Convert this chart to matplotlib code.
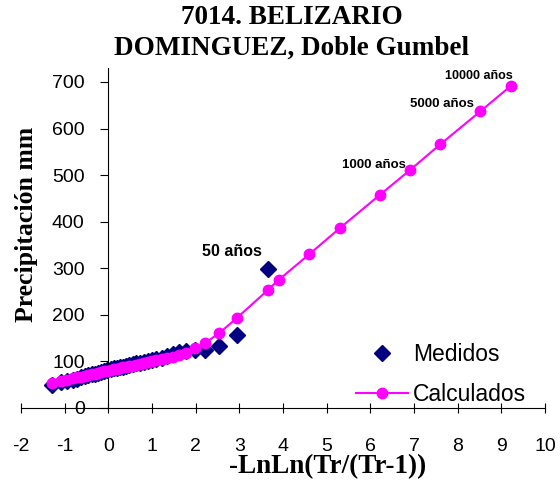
import matplotlib
matplotlib.use("Agg")
import matplotlib.pyplot as plt

# Measured (Weibull plotting positions) and values
x_med = [3.65, 2.94, 2.53, 2.22, 1.99, 1.79, 1.62, 1.47, 1.34, 1.22, 1.10, 1.00,
         0.90, 0.81, 0.72, 0.64, 0.56, 0.48, 0.40, 0.33, 0.26, 0.19, 0.12, 0.05,
         -0.02, -0.09, -0.16, -0.24, -0.31, -0.38, -0.46, -0.54, -0.63, -0.72,
         -0.82, -0.94, -1.09, -1.30]
y_med = [298, 157, 133, 125, 124, 122, 120, 116, 111, 108, 106, 104,
         101, 99, 97, 96, 94, 92, 91, 89, 87, 86, 85, 84,
         82, 80, 78, 76, 74, 72, 70, 68, 66, 63,
         61, 58, 55, 50]

# Calculated (double Gumbel)
x_calc = [-1.30, -1.09, -0.94, -0.82, -0.72, -0.63, -0.54, -0.46, -0.38, -0.31,
          -0.24, -0.16, -0.09, -0.02, 0.05, 0.12, 0.19, 0.26, 0.33, 0.40,
          0.48, 0.56, 0.64, 0.72, 0.81, 0.90, 1.00, 1.10, 1.22, 1.34,
          1.47, 1.62, 1.79, 1.99, 2.22, 2.53, 2.94, 3.65,
          3.90, 4.60, 5.30, 6.21, 6.91, 7.60, 8.52, 9.21]
y_calc = [54, 58, 61, 63.5, 65.5, 67.5, 69, 71, 72.5, 74,
          75.5, 77, 78.5, 80, 81.5, 83, 84, 85.5, 87, 88,
          89.5, 91, 92.5, 94, 96, 98, 100, 102, 104.5, 107,
          110, 114, 119, 128, 140, 160, 193, 253,
          275, 330, 386, 457, 511, 566, 637, 691]

labels_txt = ["50 años", "1000 años", "5000 años", "10000 años"]
labels_x = [2.82, 6.08, 7.64, 8.49]
labels_y = [337, 522, 653, 713]
labels_size = [11.5, 9.5, 9.5, 9]

x_ticks = list(range(-2, 11))
y_ticks = list(range(0, 701, 100))

fig = plt.figure(figsize=(5.6, 4.83), dpi=100)
ax = fig.add_axes([21/560, 1-408/483, 524/560, 340/483])

ax.plot(x_med, y_med, linestyle='none', marker='D', color='#000080',
        markersize=8.5, label='Medidos', zorder=2)
ax.plot(x_calc, y_calc, color='#FF00FF', linewidth=1.5, marker='o',
        markersize=7.5, label='Calculados', zorder=3)

for t, xx, yy, s in zip(labels_txt, labels_x, labels_y, labels_size):
    ax.text(xx, yy, t, ha='center', va='center', fontsize=s,
            fontweight='bold', family='Liberation Sans')

ax.set_xlim(-2, 10)
ax.set_ylim(0, 730)
ax.spines['left'].set_position(('data', 0))
ax.spines['right'].set_visible(False)
ax.spines['top'].set_visible(False)
ax.spines['left'].set_bounds(0, 730)
ax.set_xticks(x_ticks)
ax.set_yticks(y_ticks)
ax.set_xticklabels([str(v) for v in x_ticks], family='Liberation Sans', fontsize=14)
ax.set_yticklabels([str(v) for v in y_ticks], family='Liberation Sans', fontsize=14)
ax.tick_params(axis='x', direction='inout', length=7, pad=18)
ax.tick_params(axis='y', direction='out', length=6, pad=11)

leg = ax.legend(loc='lower right', bbox_to_anchor=(526/560, 1-406/483),
                bbox_transform=fig.transFigure, frameon=False,
                borderaxespad=0, borderpad=0,
                prop={'family': 'Liberation Sans', 'size': 16.5},
                handlelength=2.3, handletextpad=0.2, labelspacing=0.75)

fig.text(292/560, 1-33/483, "7014. BELIZARIO\nDOMINGUEZ, Doble Gumbel",
         ha='center', va='center', fontsize=19.5, fontweight='bold',
         family='Liberation Serif', linespacing=1.3)
fig.text(27/560, 1-224/483, "Precipitación mm", rotation=90, ha='center',
         va='center', fontsize=18.5, fontweight='bold', family='Liberation Serif')
fig.text(328/560, 1-467/483, "-LnLn(Tr/(Tr-1))", ha='center', va='center',
         fontsize=19.5, fontweight='bold', family='Liberation Serif')

fig.savefig("out.png", dpi=100)
